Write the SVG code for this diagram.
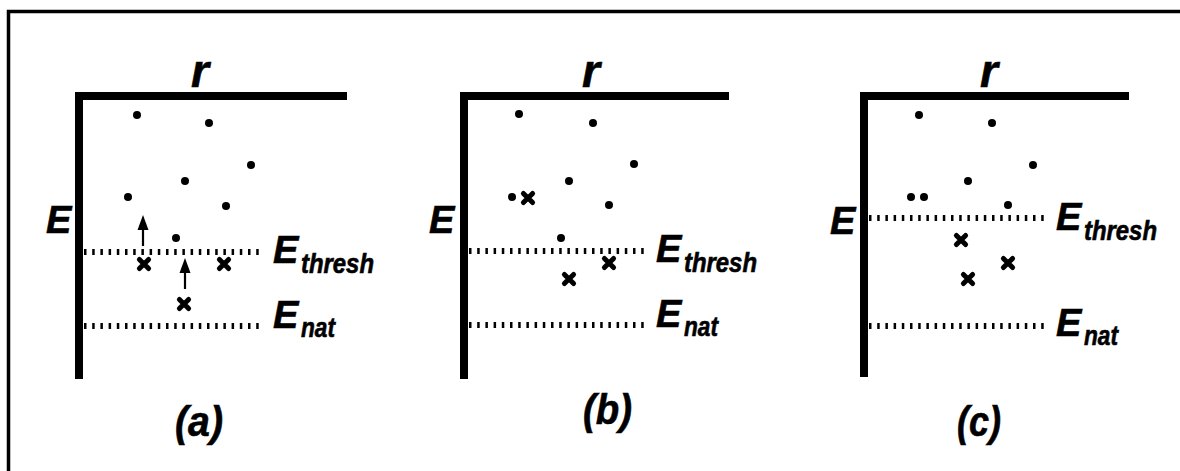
<svg xmlns="http://www.w3.org/2000/svg" width="1180" height="471" viewBox="0 0 1180 471">
<style>
.axis{stroke:#000;stroke-width:8;fill:none;stroke-linecap:square}
.lvl{stroke:#000;stroke-width:6;stroke-dasharray:2.5 5.7;fill:none}
.dot{fill:#000}
.x{stroke:#000;stroke-width:5;stroke-linecap:round;fill:none}
.arr{stroke:#000;stroke-width:2.2;fill:none}
.t{font-family:"Liberation Sans",Arial,sans-serif;font-weight:bold;font-style:italic;fill:#000;stroke:#000;stroke-width:0.6}
.big{font-size:38px}
.r{font-size:46px}
.sub{font-size:27px}
.cap{font-size:42px}
</style>
<defs>
<circle id="d" r="4" class="dot"/>
<path id="c" d="M-4.6,-4.6L4.6,4.6M4.6,-4.6L-4.6,4.6" class="x"/>
</defs>
<rect width="1180" height="471" fill="#fff"/>
<g id="frame"><path d="M8.5,471V11.5H1180" stroke="#000" stroke-width="3.5" fill="none"/></g>

<g id="panel-a">
<path class="axis" d="M79,375V96H343"/>
<text class="t r" x="191" y="87">r</text>
<text class="t big" x="46" y="233">E</text>
<path class="lvl" d="M84,252H262"/>
<path class="lvl" d="M84,326H262"/>
<text class="t big" x="273" y="263">E</text>
<text class="t sub" x="301" y="273" textLength="73" lengthAdjust="spacingAndGlyphs">thresh</text>
<text class="t big" x="273" y="328">E</text>
<text class="t sub" x="301" y="337" textLength="34" lengthAdjust="spacingAndGlyphs">nat</text>
<use href="#d" x="137" y="115"/><use href="#d" x="209" y="123"/><use href="#d" x="251" y="165"/>
<use href="#d" x="185" y="181"/><use href="#d" x="128" y="197"/><use href="#d" x="226" y="206"/>
<use href="#d" x="176" y="238"/>
<use href="#c" x="144" y="264"/><use href="#c" x="224" y="264"/><use href="#c" x="184" y="304"/>
<g id="connectors">
<path class="arr" d="M143,246V226"/><path d="M143,215L137.5,230H148.5Z"/>
<path class="arr" d="M185,289V269"/><path d="M185,258L179.5,273H190.5Z"/>
</g>
<text class="t cap" x="175" y="436" textLength="48" lengthAdjust="spacingAndGlyphs">(a)</text>
</g>

<g id="panel-b">
<path class="axis" d="M464,375V96H725"/>
<text class="t r" x="582" y="87">r</text>
<text class="t big" x="429" y="233">E</text>
<path class="lvl" d="M469,251H646"/>
<path class="lvl" d="M469,325H646"/>
<text class="t big" x="656" y="262">E</text>
<text class="t sub" x="684" y="272" textLength="73" lengthAdjust="spacingAndGlyphs">thresh</text>
<text class="t big" x="656" y="327">E</text>
<text class="t sub" x="684" y="336" textLength="34" lengthAdjust="spacingAndGlyphs">nat</text>
<use href="#d" x="519" y="114"/><use href="#d" x="593" y="123"/><use href="#d" x="634" y="164"/>
<use href="#d" x="569" y="181"/><use href="#d" x="512" y="197"/><use href="#d" x="609" y="205"/>
<use href="#d" x="561" y="238"/>
<use href="#c" x="528" y="198"/><use href="#c" x="609" y="263"/><use href="#c" x="569" y="279"/>
<text class="t cap" x="583" y="424" textLength="49" lengthAdjust="spacingAndGlyphs">(b)</text>
</g>

<g id="panel-c">
<path class="axis" d="M864,373V96H1125"/>
<text class="t r" x="980" y="87">r</text>
<text class="t big" x="830" y="234">E</text>
<path class="lvl" d="M869,218H1045"/>
<path class="lvl" d="M869,326H1045"/>
<text class="t big" x="1056" y="230">E</text>
<text class="t sub" x="1084" y="240" textLength="73" lengthAdjust="spacingAndGlyphs">thresh</text>
<text class="t big" x="1056" y="336">E</text>
<text class="t sub" x="1084" y="345" textLength="34" lengthAdjust="spacingAndGlyphs">nat</text>
<use href="#d" x="919" y="115"/><use href="#d" x="992" y="123"/><use href="#d" x="1033" y="165"/>
<use href="#d" x="968" y="181"/><use href="#d" x="911" y="197"/><use href="#d" x="924" y="197"/>
<use href="#d" x="1008" y="205"/>
<use href="#c" x="961" y="240"/><use href="#c" x="1008" y="263"/><use href="#c" x="968" y="279"/>
<text class="t cap" x="957" y="436" textLength="44" lengthAdjust="spacingAndGlyphs">(c)</text>
</g>
</svg>
